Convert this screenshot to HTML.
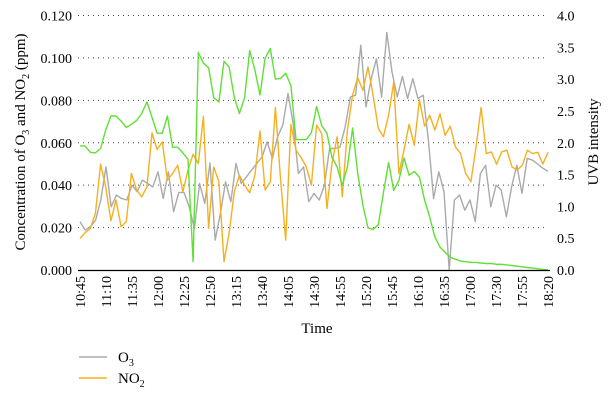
<!DOCTYPE html>
<html><head><meta charset="utf-8"><style>
body{margin:0;background:#fff;}
svg{display:block;font-family:"Liberation Serif",serif;}
</style></head><body>
<svg id="chart" width="611" height="407" viewBox="0 0 611 407">
<g id="grid"></g><g id="series"></g><g id="axes"></g>
<text x="317" y="333" font-size="15" text-anchor="middle">Time</text>
<text transform="translate(25,142) rotate(-90)" font-size="15" text-anchor="middle">Concentration of O<tspan font-size="10" dy="4">3</tspan><tspan dy="-4"> and NO</tspan><tspan font-size="10" dy="4">2</tspan><tspan dy="-4"> (ppm)</tspan></text>
<text transform="translate(598,142) rotate(-90)" font-size="15" text-anchor="middle">UVB intensity</text>
<g>
<line x1="79" y1="357" x2="107" y2="357" stroke="#aaa" stroke-width="1.5"/>
<text x="118" y="362" font-size="15">O<tspan font-size="10" dy="4">3</tspan></text>
<line x1="79" y1="378" x2="107" y2="378" stroke="#f5b021" stroke-width="1.5"/>
<text x="118" y="383" font-size="15">NO<tspan font-size="10" dy="4">2</tspan></text>
</g>
</svg>
<script>
const timeLabels=["10:45","11:10","11:35","12:00","12:25","12:50","13:15","13:40","14:05","14:30","14:55","15:20","15:45","16:10","16:35","17:00","17:30","17:55","18:20"];
const leftTicks=[0,0.02,0.04,0.06,0.08,0.10,0.12];
const rightTicks=[0,0.5,1.0,1.5,2.0,2.5,3.0,3.5,4.0];
const o3=[0.0228,0.0188,0.0204,0.0235,0.033,0.0486,0.0298,0.0353,0.0337,0.033,0.040,0.0369,0.0424,0.0408,0.0392,0.0463,0.0337,0.0463,0.0275,0.0366,0.0366,0.0298,0.0196,0.0408,0.0314,0.0505,0.0141,0.0267,0.0416,0.0322,0.0502,0.0408,0.0439,0.0471,0.0502,0.0533,0.0604,0.0526,0.0628,0.0683,0.0832,0.069,0.0455,0.0486,
0.0322,0.0361,0.033,0.040,0.0573,0.0573,0.058,0.0675,0.0816,0.0824,0.106,0.0769,0.0902,0.0996,0.0816,0.112,0.0934,0.0816,0.0913,0.0808,0.0902,0.0808,0.0824,0.0612,0.0337,0.0463,0.0369,0.0,0.033,0.0353,0.0282,0.033,0.0228,0.0455,0.0494,0.0298,0.040,0.0377,0.0251,0.0392,0.0494,0.0361,0.0526,0.0518,0.050,0.048,0.0465];
const no2=[0.0149,0.0176,0.0196,0.0267,0.0499,0.0392,0.0232,0.033,0.0204,0.0228,0.0455,0.0377,0.0345,0.0392,0.0646,0.0568,0.0604,0.0424,0.0455,0.0494,0.0369,0.0471,0.0546,0.0502,0.0725,0.0196,0.0486,0.0416,0.0039,0.0173,0.0369,0.0447,0.040,0.0364,0.0447,0.0656,0.0377,0.0416,0.0766,0.0424,0.0141,0.0687,0.0565,0.053,
0.0486,0.040,0.0683,0.0643,0.029,0.0502,0.0628,0.0345,0.0659,0.0824,0.0907,0.0847,0.0957,0.0824,0.0667,0.0628,0.073,0.0886,0.0455,0.0565,0.0687,0.0588,0.0803,0.0678,0.073,0.0659,0.0737,0.0635,0.0678,0.058,0.0549,0.0455,0.0416,0.058,0.0766,0.0549,0.0557,0.0499,0.0557,0.0565,0.0486,0.0471,0.0494,0.0565,0.0549,0.0555,0.050,0.0555];
const uvb=[1.95,1.95,1.85,1.84,1.91,2.2,2.42,2.42,2.34,2.24,2.29,2.35,2.46,2.64,2.4,2.15,2.15,2.42,1.93,1.93,1.84,1.74,0.13,3.42,3.25,3.18,2.71,2.64,3.28,3.19,2.71,2.46,2.71,3.45,3.14,2.75,3.33,3.48,3.0,3.01,3.09,2.9,2.05,2.05,
2.05,2.16,2.57,2.27,2.15,1.77,1.62,1.33,1.62,2.23,1.52,1.02,0.66,0.64,0.71,1.21,1.69,1.25,1.41,1.76,1.49,1.55,1.46,1.10,0.83,0.52,0.36,0.28,0.20,0.17,0.14,0.13,0.12,0.12,0.11,0.10,0.10,0.09,0.09,0.08,0.07,0.06,0.05,0.04,0.03,0.02,0.01,0.0];
const NS='http://www.w3.org/2000/svg';
const X0=80,X1=548,Y0=270,Y1=15.5;
function xs(i,n){return X0+i*(X1-X0)/(n-1);}
function yl(v){return Y0-v/0.12*(Y0-Y1);}
function yr(v){return Y0-v/4*(Y0-Y1);}
function mk(tag,attrs,parent,text){const e=document.createElementNS(NS,tag);for(const k in attrs)e.setAttribute(k,attrs[k]);if(text!==undefined)e.textContent=text;parent.appendChild(e);return e;}
const grid=document.getElementById('grid'),axes=document.getElementById('axes'),ser=document.getElementById('series');
leftTicks.forEach(v=>{
 if(v>0){const g=mk('line',{x1:78,x2:548,y1:yl(v),y2:yl(v),stroke:'#444','stroke-width':1,'stroke-dasharray':'1 4'},grid);
 
 }
 const t=mk('text',{x:72,y:yl(v)+5,'font-size':14,'text-anchor':'end'},axes,v.toFixed(3));
 
 
});
rightTicks.forEach(v=>{
 const t=mk('text',{x:557,y:yr(v)+5,'font-size':14},axes,v.toFixed(1));
 
 
});
const ax=mk('line',{x1:78,x2:550,y1:270.5,y2:270.5,stroke:'#000','stroke-width':1.2},axes);


const N=o3.length;
timeLabels.forEach((l,k)=>{
 const x=xs(k*5,N);
 const t=mk('text',{transform:`translate(${x+5},${276}) rotate(-90)`,'font-size':14,'text-anchor':'end'},axes,l);
 
 
});
function line(arr,yf,color,name){
 const d=arr.map((v,i)=>(i?'L':'M')+xs(i,arr.length).toFixed(1)+','+yf(v).toFixed(1)).join('');
 const p=mk('path',{d:d,fill:'none',stroke:color,'stroke-width':1.4,'stroke-linejoin':'round'},ser);
 
 
}
line(o3,yl,'#aaaaaa','o3-line');
line(no2,yl,'#f5b021','no2-line');
line(uvb,yr,'#5fe033','uvb-line');
</script>
</body></html>
